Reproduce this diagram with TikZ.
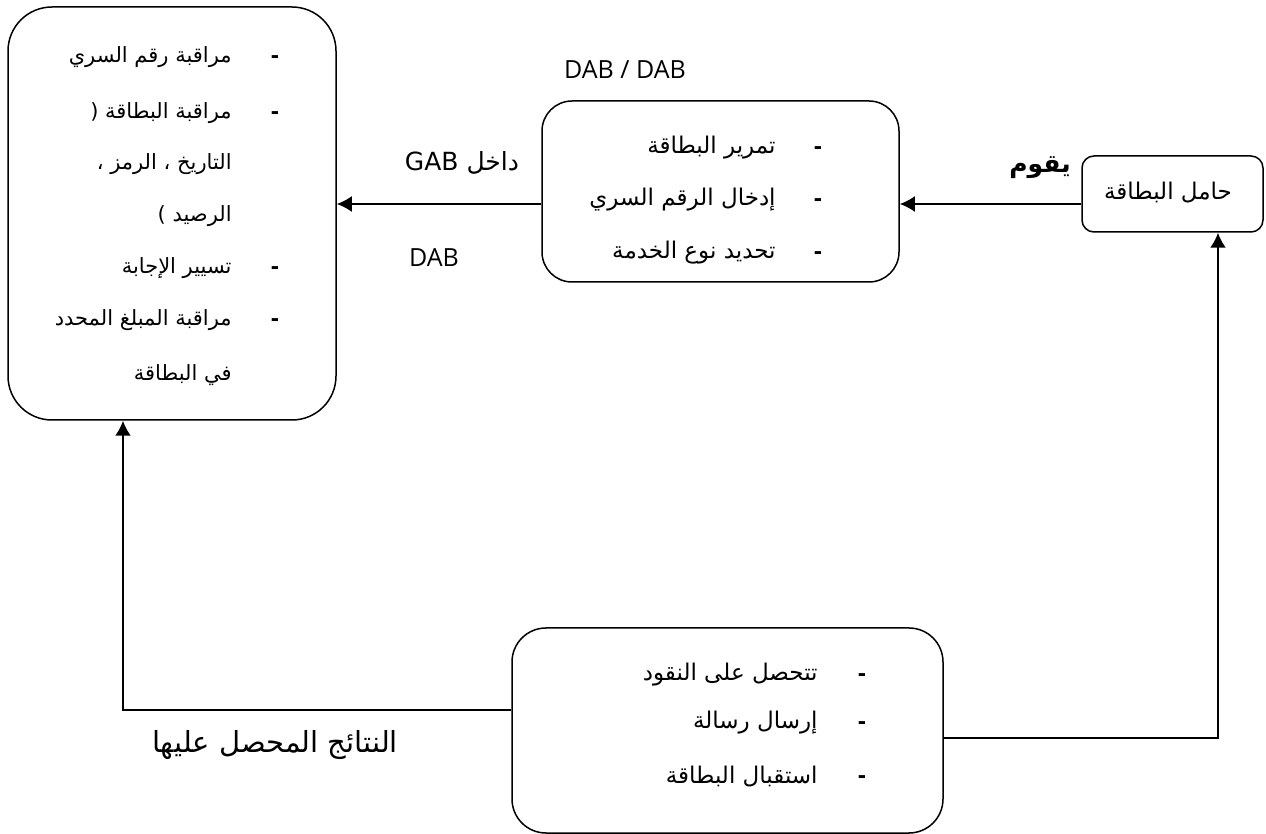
\documentclass[tikz,border=0pt]{standalone}
\usepackage{fontspec}
\setmainfont{Open Sans}
\newfontfamily\arabicfont[Script=Arabic]{DejaVu Sans}
\TeXXeTstate=1
\usetikzlibrary{arrows.meta}
\newcommand{\ar}[1]{{\arabicfont\beginR #1\endR}}
\begin{document}
\begin{tikzpicture}[x=0.5pt,y=-0.5pt,
  box/.style={draw, line width=0.75pt, inner sep=0pt},
  arr/.style={line width=1pt, -{Latex[length=7.5pt,width=8pt]}},
  itm/.style={anchor=east, inner sep=0pt, font=\arabicfont\fontsize{10.5}{12}\selectfont},
  dsh/.style={inner sep=0pt, font=\bfseries\fontsize{12}{12}\selectfont},
  lbl/.style={inner sep=0pt, font=\fontsize{12.5}{15}\selectfont}]
\useasboundingbox (0,0) rectangle (1266,834);
% boxes
\node[box, rounded corners=22pt, minimum width=164pt, minimum height=206.5pt] (left) at (172,213.5) {};
\node[box, rounded corners=15pt, minimum width=178.5pt, minimum height=90.5pt] (mid) at (720.5,191.5) {};
\node[box, rounded corners=6pt, minimum width=90.5pt, minimum height=38pt] (right) at (1172.5,194) {};
\node[box, rounded corners=17pt, minimum width=215.5pt, minimum height=102.5pt] (bot) at (727.5,730.5) {};
% right box text
\node[inner sep=0pt, font=\arabicfont\fontsize{11.5}{13}\selectfont] (rt) at (1168,193) {\ar{حامل البطاقة}};
% left box items
\node[dsh] (ld1) at (275,60) {-};
\node[itm] (l1) at (232,57) {\ar{مراقبة رقم السري}};
\node[dsh] (ld2) at (275,116) {-};
\node[itm] (l2) at (232,113) {\ar{مراقبة البطاقة (}};
\node[itm] (l3) at (232,164) {\ar{التاريخ ، الرمز ،}};
\node[itm] (l4) at (232,216) {\ar{الرصيد )}};
\node[dsh] (ld5) at (275,271) {-};
\node[itm] (l5) at (232,268) {\ar{تسيير الإجابة}};
\node[dsh] (ld6) at (275,323) {-};
\node[itm] (l6) at (232,320) {\ar{مراقبة المبلغ المحدد}};
\node[itm] (l7) at (232,375) {\ar{في البطاقة}};
% middle box items
\begin{scope}[itm/.append style={font=\arabicfont\fontsize{11.5}{13}\selectfont}]
\node[dsh] (md1) at (818,151) {-};
\node[itm] (m1) at (776,148) {\ar{تمرير البطاقة}};
\node[dsh] (md2) at (818,203) {-};
\node[itm] (m2) at (776,200) {\ar{إدخال الرقم السري}};
\node[dsh] (md3) at (818,256) {-};
\node[itm] (m3) at (776,253) {\ar{تحديد نوع الخدمة}};
\end{scope}
% bottom box items
\begin{scope}[itm/.append style={font=\arabicfont\fontsize{11.5}{13}\selectfont}]
\node[dsh] (bd1) at (862,678) {-};
\node[itm] (b1) at (818,675) {\ar{تتحصل على النقود}};
\node[dsh] (bd2) at (862,726) {-};
\node[itm] (b2) at (818,723) {\ar{إرسال رسالة}};
\node[dsh] (bd3) at (862,780) {-};
\node[itm] (b3) at (818,777) {\ar{استقبال البطاقة}};
\end{scope}
% labels
\node[lbl] (dabdab) at (625,70) {DAB / DAB};
\node[lbl] (gab) at (462,163) {{\arabicfont\beginR داخل \beginL GAB\endL\endR}};
\node[lbl] (dab) at (434,258) {DAB};
\node[inner sep=0pt, font=\arabicfont\bfseries\fontsize{12.5}{15}\selectfont] (yq) at (1040,168) {\ar{يقوم}};
\node[inner sep=0pt, font=\arabicfont\fontsize{14.5}{17}\selectfont] (res) at (275,745) {\ar{النتائج المحصل عليها}};
% connectors
\draw[arr] (right.west |- 0,204) -- (mid.east |- 0,204);
\draw[arr] (mid.west |- 0,204) -- (left.east |- 0,204);
\draw[arr] (bot.west |- 0,710) -| (left.south -| 123,0);
\draw[arr] (bot.east |- 0,738) -| (right.south -| 1218,0);
\end{tikzpicture}
\end{document}
